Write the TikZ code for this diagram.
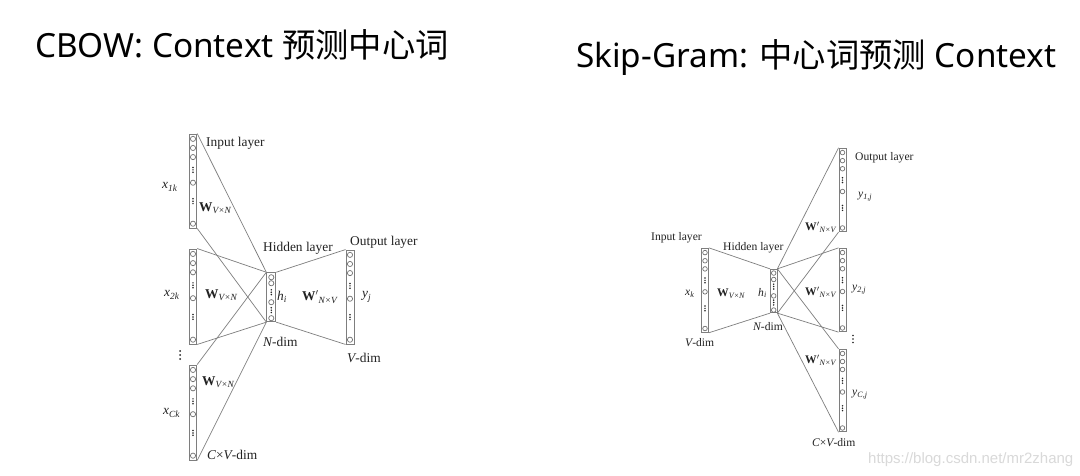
\documentclass[tikz,border=0pt]{standalone}
\usepackage{fontspec}
\setmainfont{Liberation Serif}
\newfontfamily\titlefont{Noto Sans}
\newfontfamily\cjk{Noto Sans CJK SC}
\newfontfamily\wmfont{Liberation Sans}
\usetikzlibrary{calc}
\definecolor{linegray}{HTML}{7E7E7E}
\definecolor{txt}{HTML}{222222}
\newcommand{\Wlab}[2]{\textbf{W}#1\textsubscript{\itshape #2}}
\newcommand{\ilab}[2]{{\itshape #1}\textsubscript{\itshape #2}}
\newcommand{\colbody}[4]{%
  \foreach \f in {#2} \draw[circ] ($(#1.north)!\f!(#1.south)$) circle (#4);
  \foreach \f in {#3} {\fill[dotc] ($(#1.north)!\f!(#1.south)$) ++(0,-2.4) circle (0.85) ++(0,2.4) circle (0.85) ++(0,2.4) circle (0.85);}
}
\tikzset{
  col/.style={draw=linegray, line width=0.9pt, fill=white, inner sep=0pt, rectangle},
  circ/.style={draw=linegray!90!black, line width=0.7pt},
  dotc/.style={fill=txt},
  conn/.style={draw=linegray, line width=0.7pt},
  lab/.style={inner sep=0pt, anchor=west, text=txt},
  labA/.style={lab, font=\fontsize{13.4}{15}\selectfont},
  labB/.style={lab, font=\fontsize{11.6}{13}\selectfont},
  ttl/.style={inner sep=0pt, anchor=base west, text=black, font=\fontsize{33.3}{37}\selectfont},
}
\begin{document}
\begin{tikzpicture}[x=1pt,y=-1pt]
\fill[white] (0,0) rectangle (1080,476);
\useasboundingbox (0,0) rectangle (1080,476);

% titles
\node[ttl] (t1) at (35,58) {\titlefont CBOW: Context {\cjk 预测中心词}};
\node[ttl] (t2) at (576,68) {\titlefont Skip-Gram: {\cjk 中心词预测} Context};

% ---------------- CBOW ----------------
\node[col, minimum width=7.5pt, minimum height=94pt] (in1) at (193,181) {};
\node[col, minimum width=7.5pt, minimum height=95pt] (in2) at (193,296.5) {};
\node[col, minimum width=7.5pt, minimum height=95pt] (inC) at (193,412.5) {};
\node[col, minimum width=9pt, minimum height=49pt] (hid) at (271.3,297.2) {};
\node[col, minimum width=8pt, minimum height=94pt] (out) at (350,297) {};

\foreach \n in {in1,in2,inC} {\draw[conn] (\n.north east) -- (hid.north west); \draw[conn] (\n.south east) -- (hid.south west);}
\draw[conn] (hid.north east) -- (out.north west);
\draw[conn] (hid.south east) -- (out.south west);

\foreach \n in {in1,in2,inC,out} {\colbody{\n}{0.056,0.152,0.248,0.518,0.95}{0.383,0.713}{2.6}}
\colbody{hid}{0.10,0.22,0.60,0.92}{0.40,0.76}{2.6}

\node[labA] (l1) at (206,143) {Input layer};
\node[labA] (l2) at (162,187) {\ilab{x}{1k}};
\node[labA] (l3) at (199,208) {\Wlab{}{V×N}};
\node[labA] (l4) at (263,248) {Hidden layer};
\node[labA] (l5) at (350,242) {Output layer};
\node[labA] (l6) at (164,295) {\ilab{x}{2k}};
\node[labA] (l7) at (205,295) {\Wlab{}{V×N}};
\node[labA] (l8) at (277,297) {\ilab{h}{i}};
\node[labA] (l9) at (302,297) {\Wlab{$'$}{N×V}};
\node[labA] (l10) at (362,297) {\ilab{y}{j}};
\node[labA] (l11) at (263,342) {{\itshape N}-dim};
\node[labA] (l12) at (347,358) {{\itshape V}-dim};
\node[labA] (l13) at (202,382) {\Wlab{}{V×N}};
\node[labA] (l14) at (163,413) {\ilab{x}{Ck}};
\node[labA] (l15) at (207,455) {{\itshape C}×{\itshape V}-dim};
\coordinate (vd1) at (180,355);
\fill[dotc] (vd1) ++(0,-4) circle (1) ++(0,4) circle (1) ++(0,4) circle (1);

% ---------------- Skip-Gram ----------------
\node[col, minimum width=7pt, minimum height=84pt] (sin) at (705,290.3) {};
\node[col, minimum width=6.5pt, minimum height=43.4pt] (shid) at (773.7,291) {};
\node[col, minimum width=7pt, minimum height=83.4pt] (so1) at (842.5,190) {};
\node[col, minimum width=7pt, minimum height=83.4pt] (so2) at (842.5,290) {};
\node[col, minimum width=7pt, minimum height=82.4pt] (soC) at (842.5,390.5) {};

\draw[conn] (sin.north east) -- (shid.north west);
\draw[conn] (sin.south east) -- (shid.south west);
\foreach \n in {so1,so2,soC} {\draw[conn] (shid.north east) -- (\n.north west); \draw[conn] (shid.south east) -- (\n.south west);}

\foreach \n in {sin,so1,so2,soC} {\colbody{\n}{0.056,0.152,0.248,0.518,0.95}{0.383,0.713}{2.3}}
\colbody{shid}{0.095,0.24,0.61,0.93}{0.40,0.76}{2.3}

\node[labB] (s1) at (651,238) {Input layer};
\node[labB] (s2) at (723,248) {Hidden layer};
\node[labB] (s3) at (855,158) {Output layer};
\node[labB] (s4) at (685,294) {\ilab{x}{k}};
\node[labB] (s5) at (717,294) {\Wlab{}{V×N}};
\node[labB] (s6) at (758,293) {\ilab{h}{i}};
\node[labB] (s7) at (753,327) {{\itshape N}-dim};
\node[labB] (s8) at (685,343) {{\itshape V}-dim};
\node[labB] (s9) at (858,197) {\ilab{y}{1,j}};
\node[labB] (s10) at (805,227) {\Wlab{$'$}{N×V}};
\node[labB] (s11) at (805,292) {\Wlab{$'$}{N×V}};
\node[labB] (s12) at (852,290) {\ilab{y}{2,j}};
\node[labB] (s13) at (805,360) {\Wlab{$'$}{N×V}};
\node[labB] (s14) at (852,395) {\ilab{y}{C,j}};
\node[labB] (s15) at (812,443) {{\itshape C}×{\itshape V}-dim};
\coordinate (vd2) at (853,339);
\fill[dotc] (vd2) ++(0,-3.5) circle (0.95) ++(0,3.5) circle (0.95) ++(0,3.5) circle (0.95);

% watermark
\node[inner sep=0pt, anchor=west, text=black!15, font=\wmfont\fontsize{15}{17}\selectfont] (wm) at (868,460) {https://blog.csdn.net/mr2zhang};
\end{tikzpicture}
\end{document}
